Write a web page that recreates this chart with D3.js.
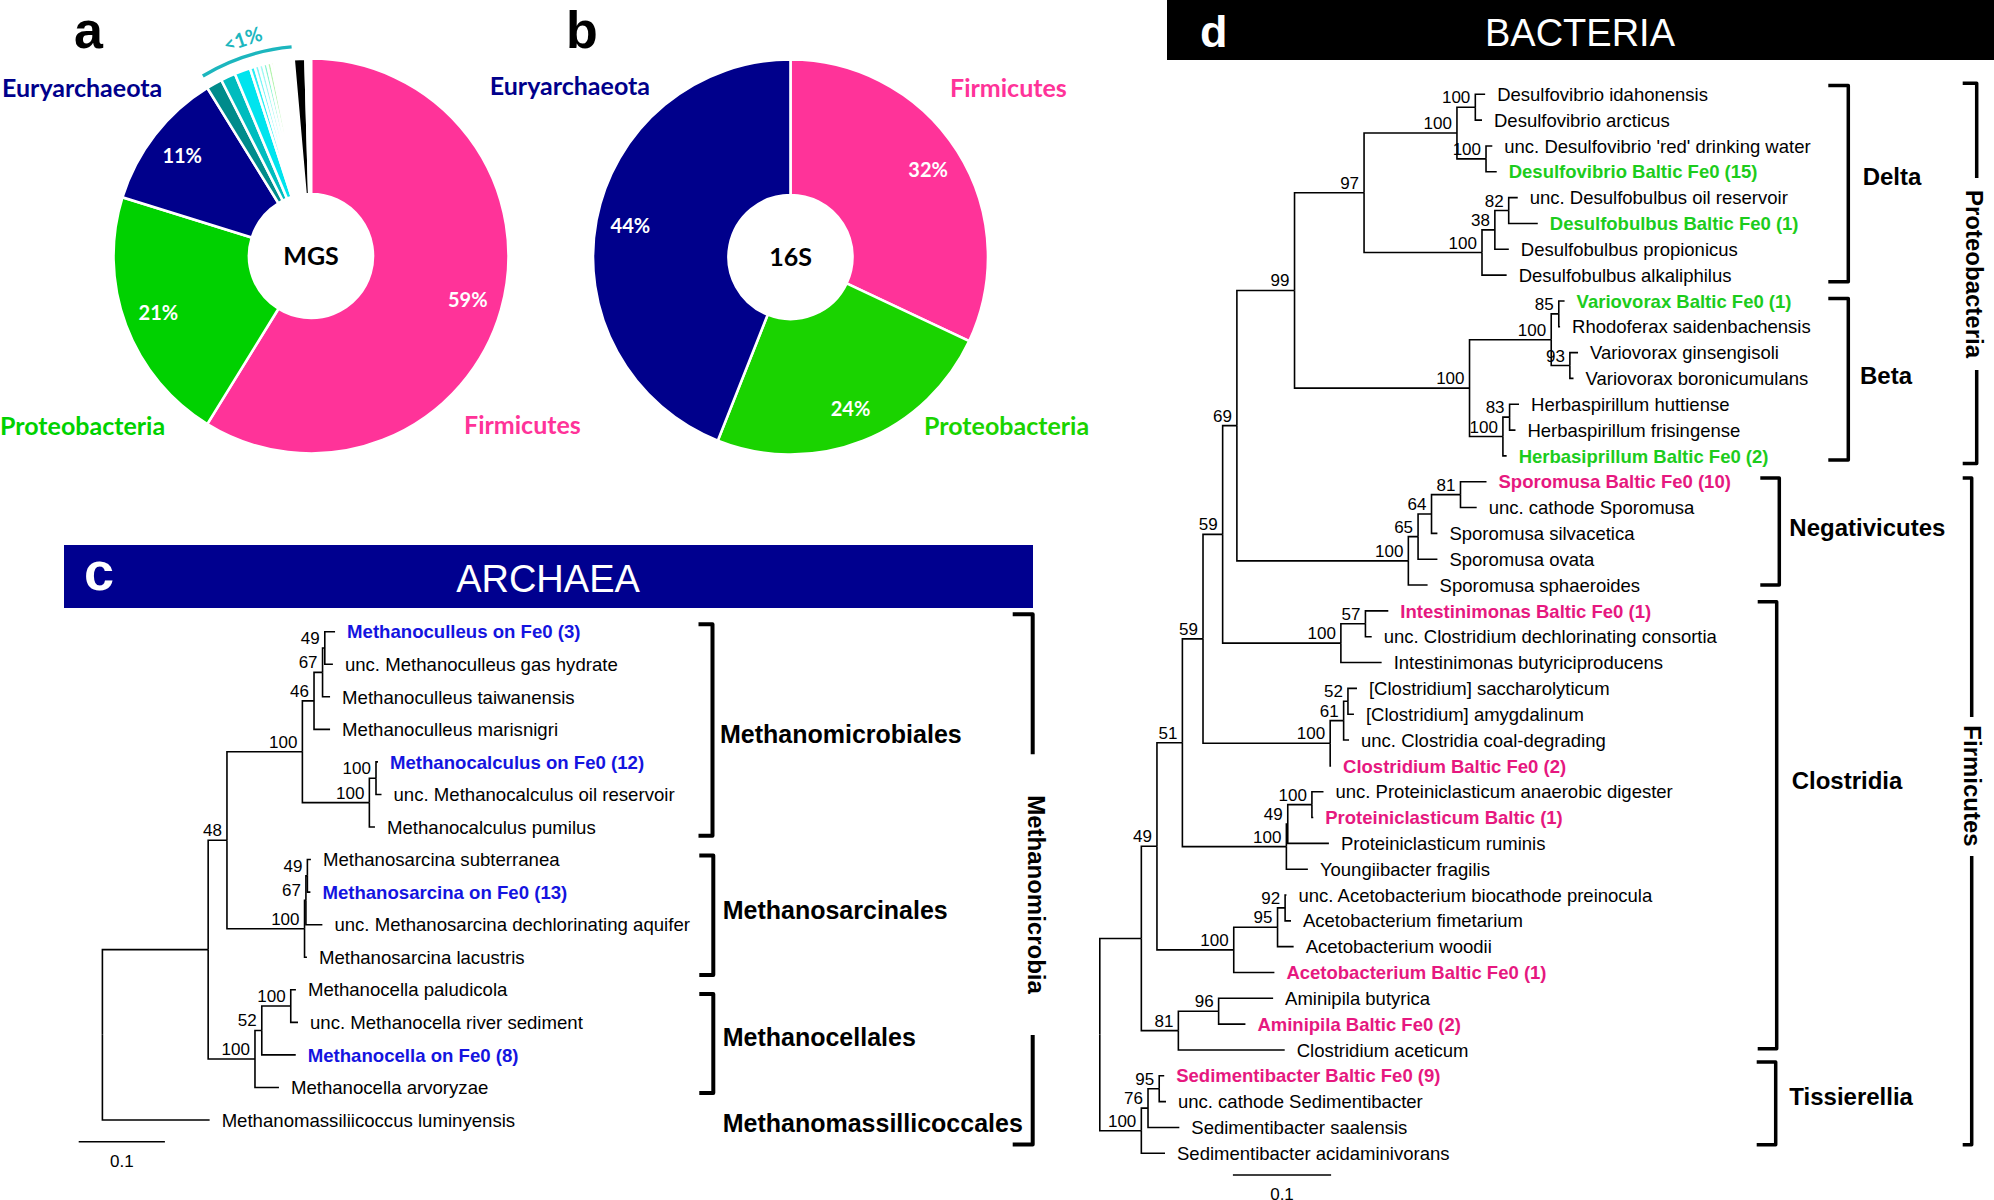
<!DOCTYPE html>
<html>
<head>
<meta charset="utf-8">
<script src="https://cdn.jsdelivr.net/npm/d3@7"></script>
<style>
  body { margin: 0; background: #fff; }
  .tree text { font-family: "Liberation Sans", Arial, sans-serif; }
  .pie text { font-family: Lato, "Open Sans", sans-serif; font-weight: bold; }
  .hdr { font-family: "Liberation Sans", Arial, sans-serif; }
</style>
</head>
<body>
<div id="chart"></div>
<script>
// ---------------- data ----------------
// panel a: metagenome (MGS) phylum shares, clockwise from 12 o'clock
const mgsGroups = ["Firmicutes", "Proteobacteria", "Euryarchaeota",
  "minor 1", "minor 2", "minor 3", "minor 4", "minor 5", "minor 6", "minor 7", "minor 8", "minor 9", "minor 10",
  "unassigned", "other", "gap"];
const mgsValues = [58.8, 21.0, 11.4, 1.3, 1.2, 1.3, 0.4, 0.35, 0.35, 0.33, 0.33, 0.22, 0.19, 1.43, 0.95, 0.45];
const mgsColors = ["#ff3399", "#00d100", "#00008b", "#008b8b", "#00bcbe", "#00e4ee", "#2aeef5", "#7af5f6",
  "#a2f8f4", "#86f4d0", "#b4f4ae", "#cbee78", "#eef6c4", "#ffffff", "#000000", "#ffffff"];

// panel b: 16S amplicon shares
const s16Groups = ["Firmicutes", "Proteobacteria", "Euryarchaeota"];
const s16Values = [32, 24, 44];
const s16Colors = ["#ff3399", "#1ad300", "#00008b"];

// panel c: archaea tree, leaves top to bottom
const archaeaTaxa = [
  "Methanoculleus on Fe0 (3)", "unc. Methanoculleus gas hydrate", "Methanoculleus taiwanensis",
  "Methanoculleus marisnigri", "Methanocalculus on Fe0 (12)", "unc. Methanocalculus oil reservoir",
  "Methanocalculus pumilus", "Methanosarcina subterranea", "Methanosarcina on Fe0 (13)",
  "unc. Methanosarcina dechlorinating aquifer", "Methanosarcina lacustris", "Methanocella paludicola",
  "unc. Methanocella river sediment", "Methanocella on Fe0 (8)", "Methanocella arvoryzae",
  "Methanomassiliicoccus luminyensis"];
const archaeaFe0 = [0, 4, 8, 13];
// [child (leaf index or node id), parent, branch length, bootstrap]
const archaeaEdges = [
  ["A", "root", 0.1227], ["B", "A", 0.0218, 48], ["D", "B", 0.0875, 100], ["F", "D", 0.0135, 46],
  ["H", "F", 0.0099, 67], ["I", "H", 0.0026, 49], [0, "I", 0.0119], [1, "I", 0.0094], [2, "H", 0.0087],
  [3, "F", 0.0186], ["G", "D", 0.0777, 100], ["J", "G", 0.0077, 100], [4, "J", 0.0023], [5, "J", 0.0064],
  [6, "G", 0.0065], ["E", "B", 0.0900, 100], ["K", "E", 0.0016, 67], ["L", "K", 0.0017, 49],
  [7, "L", 0.0041], [8, "L", 0.0035], [9, "K", 0.0191], [10, "E", 0.0028], ["C", "A", 0.0543, 100],
  ["M", "C", 0.0079, 52], ["N", "M", 0.0336, 100], [11, "N", 0.0060], [12, "N", 0.0084],
  [13, "M", 0.0394], [14, "C", 0.0278], [15, "root", 0.1244]];

// panel d: bacteria tree, leaves top to bottom
const bacteriaTaxa = [
  "Desulfovibrio idahonensis", "Desulfovibrio arcticus", "unc. Desulfovibrio 'red' drinking water",
  "Desulfovibrio Baltic Fe0 (15)", "unc. Desulfobulbus oil reservoir", "Desulfobulbus Baltic Fe0 (1)",
  "Desulfobulbus propionicus", "Desulfobulbus alkaliphilus", "Variovorax Baltic Fe0 (1)",
  "Rhodoferax saidenbachensis", "Variovorax ginsengisoli", "Variovorax boronicumulans",
  "Herbaspirillum huttiense", "Herbaspirillum frisingense", "Herbasiprillum Baltic Fe0 (2)",
  "Sporomusa Baltic Fe0 (10)", "unc. cathode Sporomusa", "Sporomusa silvacetica", "Sporomusa ovata",
  "Sporomusa sphaeroides", "Intestinimonas Baltic Fe0 (1)", "unc. Clostridium dechlorinating consortia",
  "Intestinimonas butyriciproducens", "[Clostridium] saccharolyticum", "[Clostridium] amygdalinum",
  "unc. Clostridia coal-degrading", "Clostridium Baltic Fe0 (2)", "unc. Proteiniclasticum anaerobic digester",
  "Proteiniclasticum Baltic (1)", "Proteiniclasticum ruminis", "Youngiibacter fragilis",
  "unc. Acetobacterium biocathode preinocula", "Acetobacterium fimetarium", "Acetobacterium woodii",
  "Acetobacterium Baltic Fe0 (1)", "Aminipila butyrica", "Aminipila Baltic Fe0 (2)", "Clostridium aceticum",
  "Sedimentibacter Baltic Fe0 (9)", "unc. cathode Sedimentibacter", "Sedimentibacter saalensis",
  "Sedimentibacter acidaminivorans"];
const bacteriaProteoFe0 = [3, 5, 8, 14];
const bacteriaFirmiFe0 = [15, 20, 26, 28, 34, 36, 38];
const bacteriaEdges = [
  ["R", "root", 0.0423], ["S", "R", 0.0159, 49], ["U", "S", 0.0259, 51], ["W", "U", 0.0210, 59],
  ["Z", "W", 0.0200, 59], ["AA", "Z", 0.0145, 69], ["AB", "AA", 0.0587, 99], ["AD", "AB", 0.0708, 97],
  ["AF", "AD", 0.0946, 100], ["AH", "AF", 0.0187, 100], [0, "AH", 0.0100], [1, "AH", 0.0068],
  ["AI", "AF", 0.0296, 100], [2, "AI", 0.0064], [3, "AI", 0.0109],
  ["AG", "AD", 0.1201, 100], ["AJ", "AG", 0.0131, 38], ["AK", "AJ", 0.0141, 82], [4, "AK", 0.0092],
  [5, "AK", 0.0296], [6, "AJ", 0.0142], [7, "AG", 0.0251],
  ["AE", "AB", 0.1782, 100], ["AL", "AE", 0.0832, 100], ["AN", "AL", 0.0077, 85], [8, "AN", 0.0059],
  [9, "AN", 0.0013], ["AO", "AL", 0.0190, 93], [10, "AO", 0.0083], [11, "AO", 0.0037],
  ["AM", "AE", 0.0340, 100], ["AP", "AM", 0.0068, 83], [12, "AP", 0.0096], [13, "AP", 0.0060], [14, "AM", 0.0038],
  ["AC", "AA", 0.1746, 100], ["AQ", "AC", 0.0099, 65], ["AR", "AQ", 0.0137, 64], ["AS", "AR", 0.0295, 81],
  [15, "AS", 0.0265], [16, "AS", 0.0165], [17, "AR", 0.0060], [18, "AQ", 0.0197], [19, "AC", 0.0196],
  ["AT", "Z", 0.1204, 100], ["AU", "AT", 0.0250, 57], [20, "AU", 0.0233], [21, "AU", 0.0064], [22, "AT", 0.0415],
  ["Y", "W", 0.1295, 100], ["AV", "Y", 0.0137, 61], ["AW", "AV", 0.0044, 52], [23, "AW", 0.0092],
  [24, "AW", 0.0061], [25, "AV", 0.0055], [26, "Y", 0.0009],
  ["X", "U", 0.1059, 100], ["AX", "X", 0.0014, 49], ["AY", "AX", 0.0246, 100], [27, "AY", 0.0118],
  [28, "AY", 0.0014], [29, "AX", 0.0419], [30, "X", 0.0219],
  ["V", "S", 0.0782, 100], ["AZ", "V", 0.0446, 95], ["BA", "AZ", 0.0077, 92], [31, "BA", 0.0014],
  [32, "BA", 0.0060], [33, "AZ", 0.0164], [34, "V", 0.0414],
  ["T", "R", 0.0377, 81], ["BB", "T", 0.0410, 96], [35, "BB", 0.0555], [36, "BB", 0.0273], [37, "T", 0.1083],
  ["Sed", "root", 0.0423, 100], ["P", "Sed", 0.0068, 76], ["Q", "P", 0.0114, 95], [38, "Q", 0.0051],
  [39, "Q", 0.0069], [40, "P", 0.0319], [41, "Sed", 0.0241]];

// ---------------- svg ----------------
const W = 1994, H = 1200;
const svg = d3.select("#chart").append("svg")
  .attr("width", W).attr("height", H)
  .style("background", "#fff");

// ---------------- pies ----------------
const pie = d3.pie().sort(null).value(d => d);

function drawPie(cx, cy, values, colors, centerText) {
  const g = svg.append("g").attr("class", "pie").attr("transform", `translate(${cx},${cy})`);
  const arc = d3.arc().innerRadius(62).outerRadius(197.5);
  const labelArc = d3.arc().innerRadius(163).outerRadius(163);
  const arcs = pie(values);
  g.selectAll("path.slice")
    .data(arcs)
    .join("path")
    .attr("class", "slice")
    .attr("d", arc)
    .attr("fill", (d, i) => colors[i])
    .attr("stroke", "#fff")
    .attr("stroke-width", 2.6);
  g.selectAll("text.pct")
    .data(arcs.slice(0, 3))
    .join("text")
    .attr("class", "pct")
    .attr("transform", d => `translate(${labelArc.centroid(d)})`)
    .attr("text-anchor", "middle")
    .attr("dy", "0.35em")
    .attr("font-size", 20)
    .attr("fill", "#fff")
    .text(d => Math.round(d.value) + "%");
  g.append("text")
    .attr("text-anchor", "middle")
    .attr("y", 9)
    .attr("font-size", 25)
    .attr("fill", "#000")
    .text(centerText);
  return g;
}

const pieA = drawPie(311, 256, mgsValues, mgsColors, "MGS");
const pieB = drawPie(790.5, 257, s16Values, s16Colors, "16S");

// "<1%" annotation over the minor phyla
const deg = Math.PI / 180;
pieA.append("path")
  .attr("d", d3.arc().innerRadius(210).outerRadius(210).startAngle(-31 * deg).endAngle(-5.3 * deg)())
  .attr("fill", "none")
  .attr("stroke", "#1cb6be")
  .attr("stroke-width", 3.4)
  .attr("stroke-linecap", "round");
pieA.append("text")
  .attr("transform", `translate(${227 * Math.sin(-17.5 * deg)},${-227 * Math.cos(-17.5 * deg)}) rotate(-19)`)
  .attr("text-anchor", "middle")
  .attr("dy", "0.35em")
  .attr("font-size", 20)
  .attr("fill", "#1cb6be")
  .text("<1%");

// group names around the pies
const pieText = (x, y, txt, color, anchor = "start") =>
  svg.append("text").attr("class", "pie-label")
    .attr("x", x).attr("y", y)
    .attr("text-anchor", anchor)
    .attr("font-family", "Lato, sans-serif").attr("font-weight", "bold")
    .attr("font-size", 25).attr("fill", color).text(txt);

pieText(2, 97, mgsGroups[2], mgsColors[2]);
pieText(0, 435, mgsGroups[1], mgsColors[1]);
pieText(464, 434, mgsGroups[0], mgsColors[0]);
pieText(650, 95, s16Groups[2], s16Colors[2], "end");
pieText(950, 97, s16Groups[0], s16Colors[0]);
pieText(924, 435, s16Groups[1], s16Colors[1]);

// panel letters
svg.append("text").attr("class", "hdr").attr("x", 74).attr("y", 48)
  .attr("font-weight", "bold").attr("font-size", 52).text("a");
svg.append("text").attr("class", "hdr").attr("x", 566).attr("y", 48)
  .attr("font-weight", "bold").attr("font-size", 52).text("b");

// ---------------- trees ----------------
function drawTree(cfg) {
  const g = svg.append("g").attr("class", "tree");
  const idOf = c => typeof c === "number" ? cfg.taxa[c] : c;
  const table = [{ id: "root", parentId: null, len: 0, support: null }]
    .concat(cfg.edges.map(e => ({ id: idOf(e[0]), parentId: e[1], len: e[2], support: e[3] ?? null })));
  const root = d3.stratify().id(d => d.id).parentId(d => d.parentId)(table);

  root.eachBefore(n => { n.dist = n.parent ? n.parent.dist + n.data.len : 0; });
  root.eachAfter(n => {
    n.py = n.children
      ? (n.children[0].py + n.children[n.children.length - 1].py) / 2
      : cfg.y(n.id);
  });
  const x = cfg.x;

  // elbow branches
  g.append("g")
    .selectAll("path")
    .data(root.descendants().filter(n => n.parent))
    .join("path")
    .attr("d", n => `M${x(n.parent.dist)},${n.parent.py}V${n.py}H${x(n.dist)}`)
    .attr("fill", "none")
    .attr("stroke", "#000")
    .attr("stroke-width", 1.6);

  // taxon names
  g.append("g")
    .selectAll("text")
    .data(root.leaves())
    .join("text")
    .attr("x", n => x(n.dist) + 12)
    .attr("y", n => n.py)
    .attr("dy", "0.36em")
    .attr("font-size", cfg.fontSize)
    .attr("font-weight", n => cfg.color(n.id) ? "bold" : "normal")
    .attr("fill", n => cfg.color(n.id) || "#000")
    .text(n => n.id);

  // bootstrap values
  g.append("g")
    .selectAll("text")
    .data(root.descendants().filter(n => n.data.support != null))
    .join("text")
    .attr("x", n => x(n.dist) - 5)
    .attr("y", n => n.py - 4)
    .attr("text-anchor", "end")
    .attr("font-size", 17)
    .text(n => n.data.support);

  // scale bar 0.1
  const len = x(0.1) - x(0);
  g.append("line")
    .attr("x1", cfg.bar[0]).attr("x2", cfg.bar[0] + len)
    .attr("y1", cfg.bar[1]).attr("y2", cfg.bar[1])
    .attr("stroke", "#000").attr("stroke-width", 1.6);
  g.append("text")
    .attr("x", cfg.bar[0] + len / 2).attr("y", cfg.bar[1] + 25)
    .attr("text-anchor", "middle").attr("font-size", 17).text("0.1");
  return g;
}

const archaeaColor = name => archaeaFe0.map(i => archaeaTaxa[i]).includes(name) ? "#1414e0" : null;
drawTree({
  taxa: archaeaTaxa,
  edges: archaeaEdges,
  x: d3.scaleLinear().domain([0, 0.1]).range([102.4, 188.6]),
  y: d3.scalePoint().domain(archaeaTaxa).range([631.7, 1120]),
  color: archaeaColor,
  fontSize: 18.6,
  bar: [78.7, 1141.7]
});

const bacteriaColor = name => {
  if (bacteriaProteoFe0.map(i => bacteriaTaxa[i]).includes(name)) return "#1ccc1c";
  if (bacteriaFirmiFe0.map(i => bacteriaTaxa[i]).includes(name)) return "#e6187f";
  return null;
};
drawTree({
  taxa: bacteriaTaxa,
  edges: bacteriaEdges,
  x: d3.scaleLinear().domain([0, 0.1]).range([1099.8, 1198]),
  y: d3.scalePoint().domain(bacteriaTaxa).range([94.3, 1153.3]),
  color: bacteriaColor,
  fontSize: 18.5,
  bar: [1232.9, 1175]
});

// ---------------- headers ----------------
svg.append("rect").attr("x", 64).attr("y", 545).attr("width", 969).attr("height", 63).attr("fill", "#00008f");
svg.append("text").attr("class", "hdr").attr("x", 84).attr("y", 590)
  .attr("font-weight", "bold").attr("font-size", 54).attr("fill", "#fff").text("c");
svg.append("text").attr("class", "hdr").attr("x", 548).attr("y", 592).attr("text-anchor", "middle")
  .attr("font-size", 38).attr("fill", "#fff").text("ARCHAEA");

svg.append("rect").attr("x", 1167).attr("y", 0).attr("width", 827).attr("height", 60).attr("fill", "#000");
svg.append("text").attr("class", "hdr").attr("x", 1200).attr("y", 47)
  .attr("font-weight", "bold").attr("font-size", 45).attr("fill", "#fff").text("d");
svg.append("text").attr("class", "hdr").attr("x", 1580).attr("y", 46).attr("text-anchor", "middle")
  .attr("font-size", 38).attr("fill", "#fff").text("BACTERIA");

// ---------------- brackets and clade names ----------------
function bracket(x, y1, y2, tick, sw, ends = [true, true]) {
  const p = d3.path();
  if (ends[0]) { p.moveTo(x - tick, y1); p.lineTo(x, y1); } else p.moveTo(x, y1);
  p.lineTo(x, y2);
  if (ends[1]) p.lineTo(x - tick, y2);
  svg.append("path").attr("d", p.toString())
    .attr("fill", "none").attr("stroke", "#000").attr("stroke-width", sw)
    .attr("stroke-linejoin", "round");
}
function cladeLabel(x, y, txt, size, rotate = false) {
  const t = svg.append("text")
    .attr("font-family", "'Liberation Sans', Arial, sans-serif")
    .attr("font-weight", "bold").attr("font-size", size).attr("fill", "#000").text(txt);
  if (rotate) {
    t.attr("text-anchor", "middle").attr("dominant-baseline", "central")
      .attr("transform", `translate(${x},${y}) rotate(90)`);
  } else t.attr("x", x).attr("y", y);
}

// archaea orders
bracket(712.5, 624.3, 835.7, 14, 4);
bracket(713.3, 855.4, 975, 14, 4);
bracket(713.3, 994, 1092.9, 14, 4);
cladeLabel(720, 743, "Methanomicrobiales", 25);
cladeLabel(722.7, 919, "Methanosarcinales", 25);
cladeLabel(722.7, 1046, "Methanocellales", 25);
cladeLabel(722.7, 1132, "Methanomassillicoccales", 25);
bracket(1032.7, 614.3, 754.3, 20, 4, [true, false]);
bracket(1032.7, 1035, 1144.6, 20, 4, [false, true]);
cladeLabel(1036, 894.5, "Methanomicrobia", 24, true);

// bacteria classes
bracket(1848.3, 85.4, 281.8, 20, 3.5);
bracket(1848.3, 298.5, 459.9, 20, 3.5);
bracket(1779.3, 478, 585, 19, 3.5);
bracket(1776.7, 601.7, 1048.8, 19, 3.5);
bracket(1775.7, 1061.9, 1144.8, 19, 3.5);
cladeLabel(1862.7, 185, "Delta", 24);
cladeLabel(1860, 383.5, "Beta", 24);
cladeLabel(1789.3, 536, "Negativicutes", 24);
cladeLabel(1791.7, 789, "Clostridia", 24);
cladeLabel(1789.3, 1105, "Tissierellia", 24);

// bacteria phyla
bracket(1976.7, 83.3, 178, 14, 3.5, [true, false]);
bracket(1976.7, 370, 463.5, 14, 3.5, [false, true]);
cladeLabel(1974.5, 274, "Proteobacteria", 24, true);
bracket(1971.7, 478, 717, 9, 3.5, [true, false]);
bracket(1971.7, 856, 1144.8, 9, 3.5, [false, true]);
cladeLabel(1972, 786, "Firmicutes", 24, true);
</script>
</body>
</html>
